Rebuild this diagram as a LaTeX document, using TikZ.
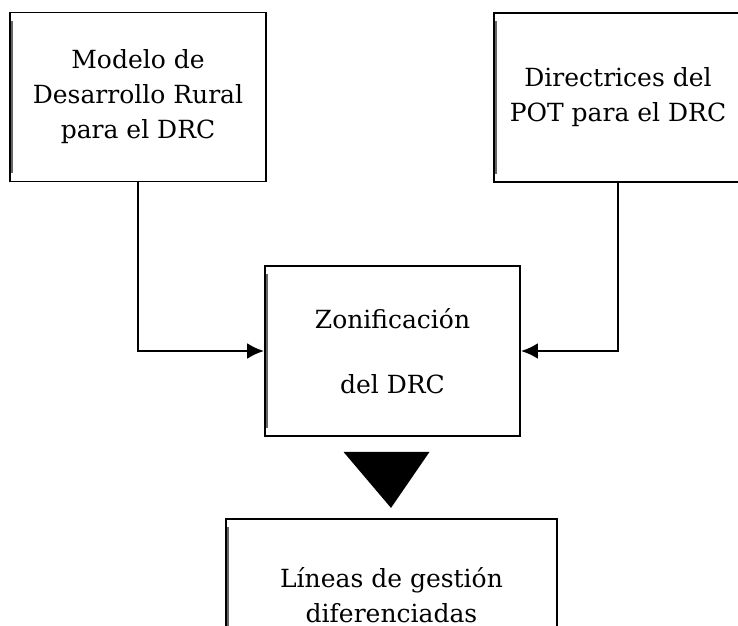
\documentclass[tikz,border=0pt]{standalone}
\usepackage{fontspec}
\setmainfont{DejaVu Serif}
\usetikzlibrary{calc,arrows.meta}
\begin{document}
\begin{tikzpicture}[x=1pt,y=-1pt,
  box/.style={draw=black,line width=1.8pt,fill=white,rectangle,inner sep=0pt,align=center,
    font=\fontsize{25}{35}\selectfont},
  conn/.style={draw=black,line width=2.6pt,-{Latex[length=17pt,width=16pt]}},
  edge/.style={draw=black!60,line width=2pt}]
\useasboundingbox (0,0) rectangle (738,625);
\clip (0,0) rectangle (738,625);
\fill[white] (0,0) rectangle (738,625);
\node[box,minimum width=256pt,minimum height=169pt] (b1) at (138,97) {Modelo de\\Desarrollo Rural\\para el DRC};
\node[box,minimum width=248pt,minimum height=169pt] (b2) at (618,97.5) {Directrices del\\POT para el DRC};
\node[box,minimum width=255pt,minimum height=170pt,font=\fontsize{25}{65}\selectfont] (b3) at (392.5,351) {Zonificación\\del DRC};
\node[box,minimum width=331pt,minimum height=152pt] (b4) at (391.5,595) {Líneas de gestión\\diferenciadas};
\foreach \b in {b1,b2,b3,b4}{
  \draw[edge] ($(\b.north west)+(2.5,9)$) -- ($(\b.south west)+(2.5,-9)$);
}
\draw[conn] (b1.south) |- (b3.west);
\draw[conn] (b2.south) |- (b3.east);
\fill[black] ($(b3.south)+(-49,15)$) -- ($(b3.south)+(37,15)$) -- ($(b3.south)+(-1.5,71)$) -- cycle;
\end{tikzpicture}
\end{document}
